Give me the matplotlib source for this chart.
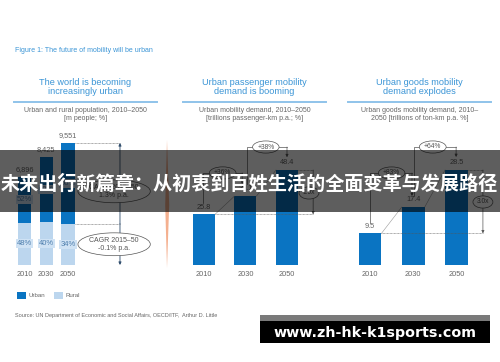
import matplotlib
matplotlib.use("Agg")
import matplotlib.pyplot as plt
from matplotlib.patches import Rectangle, Polygon

W, H = 500, 362

# ---- data ----
years = ["2010", "2030", "2050"]
pop_total = [6896, 8425, 9551]          # m people
urban_share = [52, 60, 66]              # %
rural_share = [48, 40, 34]              # %
pass_demand = [25.8, 35.1, 48.4]        # trillion passenger-km
pass_growth = ["+36%", "+38%"]
goods_demand = [9.5, 17.4, 28.5]        # trillion ton-km
goods_growth = ["+83%", "+64%"]

URBAN = "#0a74c2"
RURAL = "#bcd6ee"
TITLE_C = "#3b95d6"
GREY = "#666666"
FONT = ["Liberation Sans", "DejaVu Sans"]

plt.rcParams["font.family"] = FONT

fig = plt.figure(figsize=(W / 100, H / 100), dpi=100)
fig.patch.set_facecolor("white")


def fx(x):
    return x / W


def fy(y):
    return 1 - y / H


def add_ax(x0, x1, y0, y1):
    ax = fig.add_axes([fx(x0), fy(y1), (x1 - x0) / W, (y1 - y0) / H])
    for s in ax.spines.values():
        s.set_visible(False)
    ax.set_yticks([])
    ax.tick_params(axis="x", length=0, pad=4, labelsize=5.3, labelcolor=GREY)
    return ax


def ellipse_text(ax, x, y, txt, size=4.8):
    ax.text(x, y, txt, ha="center", va="center", fontsize=size, color="#555555",
            linespacing=1.1, clip_on=False,
            bbox=dict(boxstyle="ellipse,pad=0.12", fc="white", ec="#555555", lw=0.5))


def bracket(ax, x0, y0, x1, ytop, y1):
    ax.plot([x0, x0, x1], [y0, ytop, ytop], color="#555555", lw=0.5, clip_on=False)
    ax.annotate("", xy=(x1, y1), xytext=(x1, ytop),
                arrowprops=dict(arrowstyle="-|>", color="#555555", lw=0.5,
                                mutation_scale=4, shrinkA=0, shrinkB=0))


# ---- header text ----
fig.text(fx(15), fy(51), "Figure 1: The future of mobility will be urban",
         fontsize=5.0, color=TITLE_C, va="center")

panels = [
    (14, 157, "The world is becoming\nincreasingly urban",
     "Urban and rural population, 2010\u20132050\n[m people; %]"),
    (183, 326, "Urban passenger mobility\ndemand is booming",
     "Urban mobility demand, 2010\u20132050\n[trillions passenger-km p.a.; %]"),
    (348, 491, "Urban goods mobility\ndemand explodes",
     "Urban goods mobility demand, 2010\u2013\n2050 [trillions of ton-km p.a. %]"),
]
for x0, x1, title, sub in panels:
    cx = (x0 + x1) / 2
    fig.text(fx(cx), fy(87), title, ha="center", va="center", fontsize=6.6,
             color=TITLE_C, linespacing=1.1)
    fig.add_artist(plt.Line2D([fx(x0), fx(x1)], [fy(101.5), fy(101.5)],
                              color="#8fc3ea", lw=1.4))
    fig.text(fx(cx), fy(115), sub, ha="center", va="center", fontsize=5.0,
             color=GREY, linespacing=1.2)

# ---- panel 1: population ----
ax1 = add_ax(10, 160, 140, 265)
ax1.set_xlim(-0.667, 6.23)
ax1.set_ylim(0, 9551 * 125 / 122)
xs = [0, 1, 2]
rural = [t * r / 100 for t, r in zip(pop_total, rural_share)]
urban = [t - r for t, r in zip(pop_total, rural)]
ax1.bar(xs, rural, width=0.6, color=RURAL)
ax1.bar(xs, urban, width=0.6, bottom=rural, color=URBAN)
ax1.set_xticks(xs, years)
for x, t, u, r, us, rs in zip(xs, pop_total, urban, rural, urban_share, rural_share):
    ax1.annotate(f"{t:,}", (x, t), xytext=(0, 5.5), textcoords="offset points",
                 ha="center", va="center", fontsize=5.3, color=GREY)
    ax1.text(x, r + u / 2, f"{us}%", ha="center", va="center", fontsize=5.5,
             color="#4f7fae", bbox=dict(boxstyle="square,pad=0.12", fc="#cfe2f4", ec="none"))
    ax1.text(x, r / 2, f"{rs}%", ha="center", va="center", fontsize=5.5,
             color="#4f7fae", bbox=dict(boxstyle="square,pad=0.12", fc="#cfe2f4", ec="none"))
xa = 4.39
ax1.plot([2.3, xa], [pop_total[2]] * 2, color="#555555", lw=0.4, ls=(0, (1.5, 1)))
ax1.plot([2.3, xa], [rural[2]] * 2, color="#555555", lw=0.4, ls=(0, (1.5, 1)))
ax1.annotate("", xy=(xa, pop_total[2]), xytext=(xa, rural[2]),
             arrowprops=dict(arrowstyle="-|>", color="#2c4a6a", lw=0.6,
                             mutation_scale=4, shrinkA=0, shrinkB=0))
ax1.annotate("", xy=(xa, 0), xytext=(xa, rural[2]),
             arrowprops=dict(arrowstyle="-|>", color="#2c4a6a", lw=0.6,
                             mutation_scale=4, shrinkA=0, shrinkB=0))
ellipse_text(ax1, 4.12, rural[2] + (pop_total[2] - rural[2]) * 0.4,
             "CAGR 2015\u201350\n1.3% p.a.", size=5.0)
ellipse_text(ax1, 4.12, rural[2] / 2, "CAGR 2015\u201350\n-0.1% p.a.", size=5.0)

# ---- panel 2: passenger demand ----
ax2 = add_ax(183, 326, 140, 265)
ax2.set_xlim(-0.506, 2.94)
ax2.set_ylim(0, 125 / 1.963)
ax2.bar(xs, pass_demand, width=0.53, color=URBAN)
ax2.plot([-0.35, 2.45], [0, 0], color="#d5d5d5", lw=0.6)
ax2.set_xticks(xs, years)
for x, v in zip(xs, pass_demand):
    ax2.annotate(f"{v}", (x, v), xytext=(0, 5.2), textcoords="offset points",
                 ha="center", va="center", fontsize=5.3, color=GREY)
for i in range(2):
    ax2.plot([i + 0.265, i + 0.735], [pass_demand[i], pass_demand[i + 1]],
             color="#9a9a9a", lw=0.4)
bracket(ax2, -0.03, pass_demand[0] + 5.8, 0.92, 46.9, pass_demand[1] + 6.2)
ellipse_text(ax2, 0.45, 46.9, pass_growth[0])
bracket(ax2, 1.04, pass_demand[1] + 6.2, 2.0, 60.1, pass_demand[2] + 6.5)
ellipse_text(ax2, 1.49, 60.1, pass_growth[1])
xa = 2.63
ax2.plot([0.265, xa], [pass_demand[0]] * 2, color="#555555", lw=0.4, ls=(0, (1.5, 1)))
ax2.plot([2.265, xa], [pass_demand[2]] * 2, color="#555555", lw=0.4, ls=(0, (1.5, 1)))
ax2.annotate("", xy=(xa, pass_demand[0]), xytext=(xa, pass_demand[2]),
             arrowprops=dict(arrowstyle="-|>", color="#555555", lw=0.5,
                             mutation_scale=4, shrinkA=0, shrinkB=0))
ellipse_text(ax2, xa - 0.1, 36.7, f"{pass_demand[2] / pass_demand[0]:.1f}x")

# ---- panel 3: goods demand ----
ax3 = add_ax(348, 492, 140, 265)
ax3.set_xlim(-0.509, 2.82)
ax3.set_ylim(0, 37.5)
ax3.bar(xs, goods_demand, width=0.53, color=URBAN)
ax3.plot([-0.35, 2.45], [0, 0], color="#d5d5d5", lw=0.6)
ax3.set_xticks(xs, years)
for x, v in zip(xs, goods_demand):
    ax3.annotate(f"{v}", (x, v), xytext=(0, 5.2), textcoords="offset points",
                 ha="center", va="center", fontsize=5.3, color=GREY)
for i in range(2):
    ax3.plot([i + 0.265, i + 0.735], [goods_demand[i], goods_demand[i + 1]],
             color="#9a9a9a", lw=0.4)
bracket(ax3, 0.0, goods_demand[0] + 3.1, 0.97, 27.6, goods_demand[1] + 3.3)
ellipse_text(ax3, 0.5, 27.6, goods_growth[0])
bracket(ax3, 1.02, goods_demand[1] + 3.3, 1.99, 35.4, goods_demand[2] + 3.9)
ellipse_text(ax3, 1.45, 35.4, goods_growth[1])
xa = 2.61
ax3.plot([0.265, xa], [goods_demand[0]] * 2, color="#555555", lw=0.4, ls=(0, (1.5, 1)))
ax3.plot([2.265, xa], [goods_demand[2]] * 2, color="#555555", lw=0.4, ls=(0, (1.5, 1)))
ax3.annotate("", xy=(xa, goods_demand[0]), xytext=(xa, goods_demand[2]),
             arrowprops=dict(arrowstyle="-|>", color="#555555", lw=0.5,
                             mutation_scale=4, shrinkA=0, shrinkB=0))
ellipse_text(ax3, xa, 18.9, f"{goods_demand[2] / goods_demand[0]:.1f}x")

# orange separator between panel 1 and 2
fig.add_artist(Polygon([(fx(167), fy(140)), (fx(169.2), fy(205)), (fx(167), fy(268)),
                        (fx(165.2), fy(205))], closed=True, fc="#f3a27c", ec="none",
                       alpha=0.85, transform=fig.transFigure))

# legend + source
fig.add_artist(Rectangle((fx(17), fy(299)), 9 / W, 7 / H, fc=URBAN, ec="none",
                         transform=fig.transFigure))
fig.text(fx(28.5), fy(295.5), "Urban", fontsize=4.4, color=GREY, va="center")
fig.add_artist(Rectangle((fx(54), fy(299)), 9 / W, 7 / H, fc=RURAL, ec="none",
                         transform=fig.transFigure))
fig.text(fx(65.5), fy(295.5), "Rural", fontsize=4.4, color=GREY, va="center")
fig.text(fx(15), fy(316), "Source: UN Department of Economic and Social Affairs, OECD/ITF,  Arthur D. Little",
         fontsize=4.0, color=GREY, va="center")

# dark banner with headline
fig.add_artist(Rectangle((0, fy(212)), 1, 62 / H, fc="black", ec="none", alpha=0.63,
                         transform=fig.transFigure, zorder=5))
fig.text(fx(249.5), fy(184), "未来出行新篇章：从初衷到百姓生活的全面变革与发展路径",
         ha="center", va="center", fontsize=13.8, fontweight="bold", color="white",
         family=["Noto Sans CJK SC", "DejaVu Sans"], zorder=6)

# watermark box
fig.add_artist(Rectangle((fx(260), fy(343)), 230 / W, 23 / H, fc="black", ec="none",
                         transform=fig.transFigure, zorder=5))
fig.add_artist(Rectangle((fx(260), fy(320.5)), 230 / W, 5.5 / H, fc="#7a7a7a", ec="none",
                         transform=fig.transFigure, zorder=5))
fig.text(fx(375), fy(332.5), "www.zh-hk-k1sports.com", ha="center", va="center",
         fontsize=10.3, fontweight="bold", color="white", family=["DejaVu Sans"], zorder=6)

fig.savefig("out.png", dpi=100)
